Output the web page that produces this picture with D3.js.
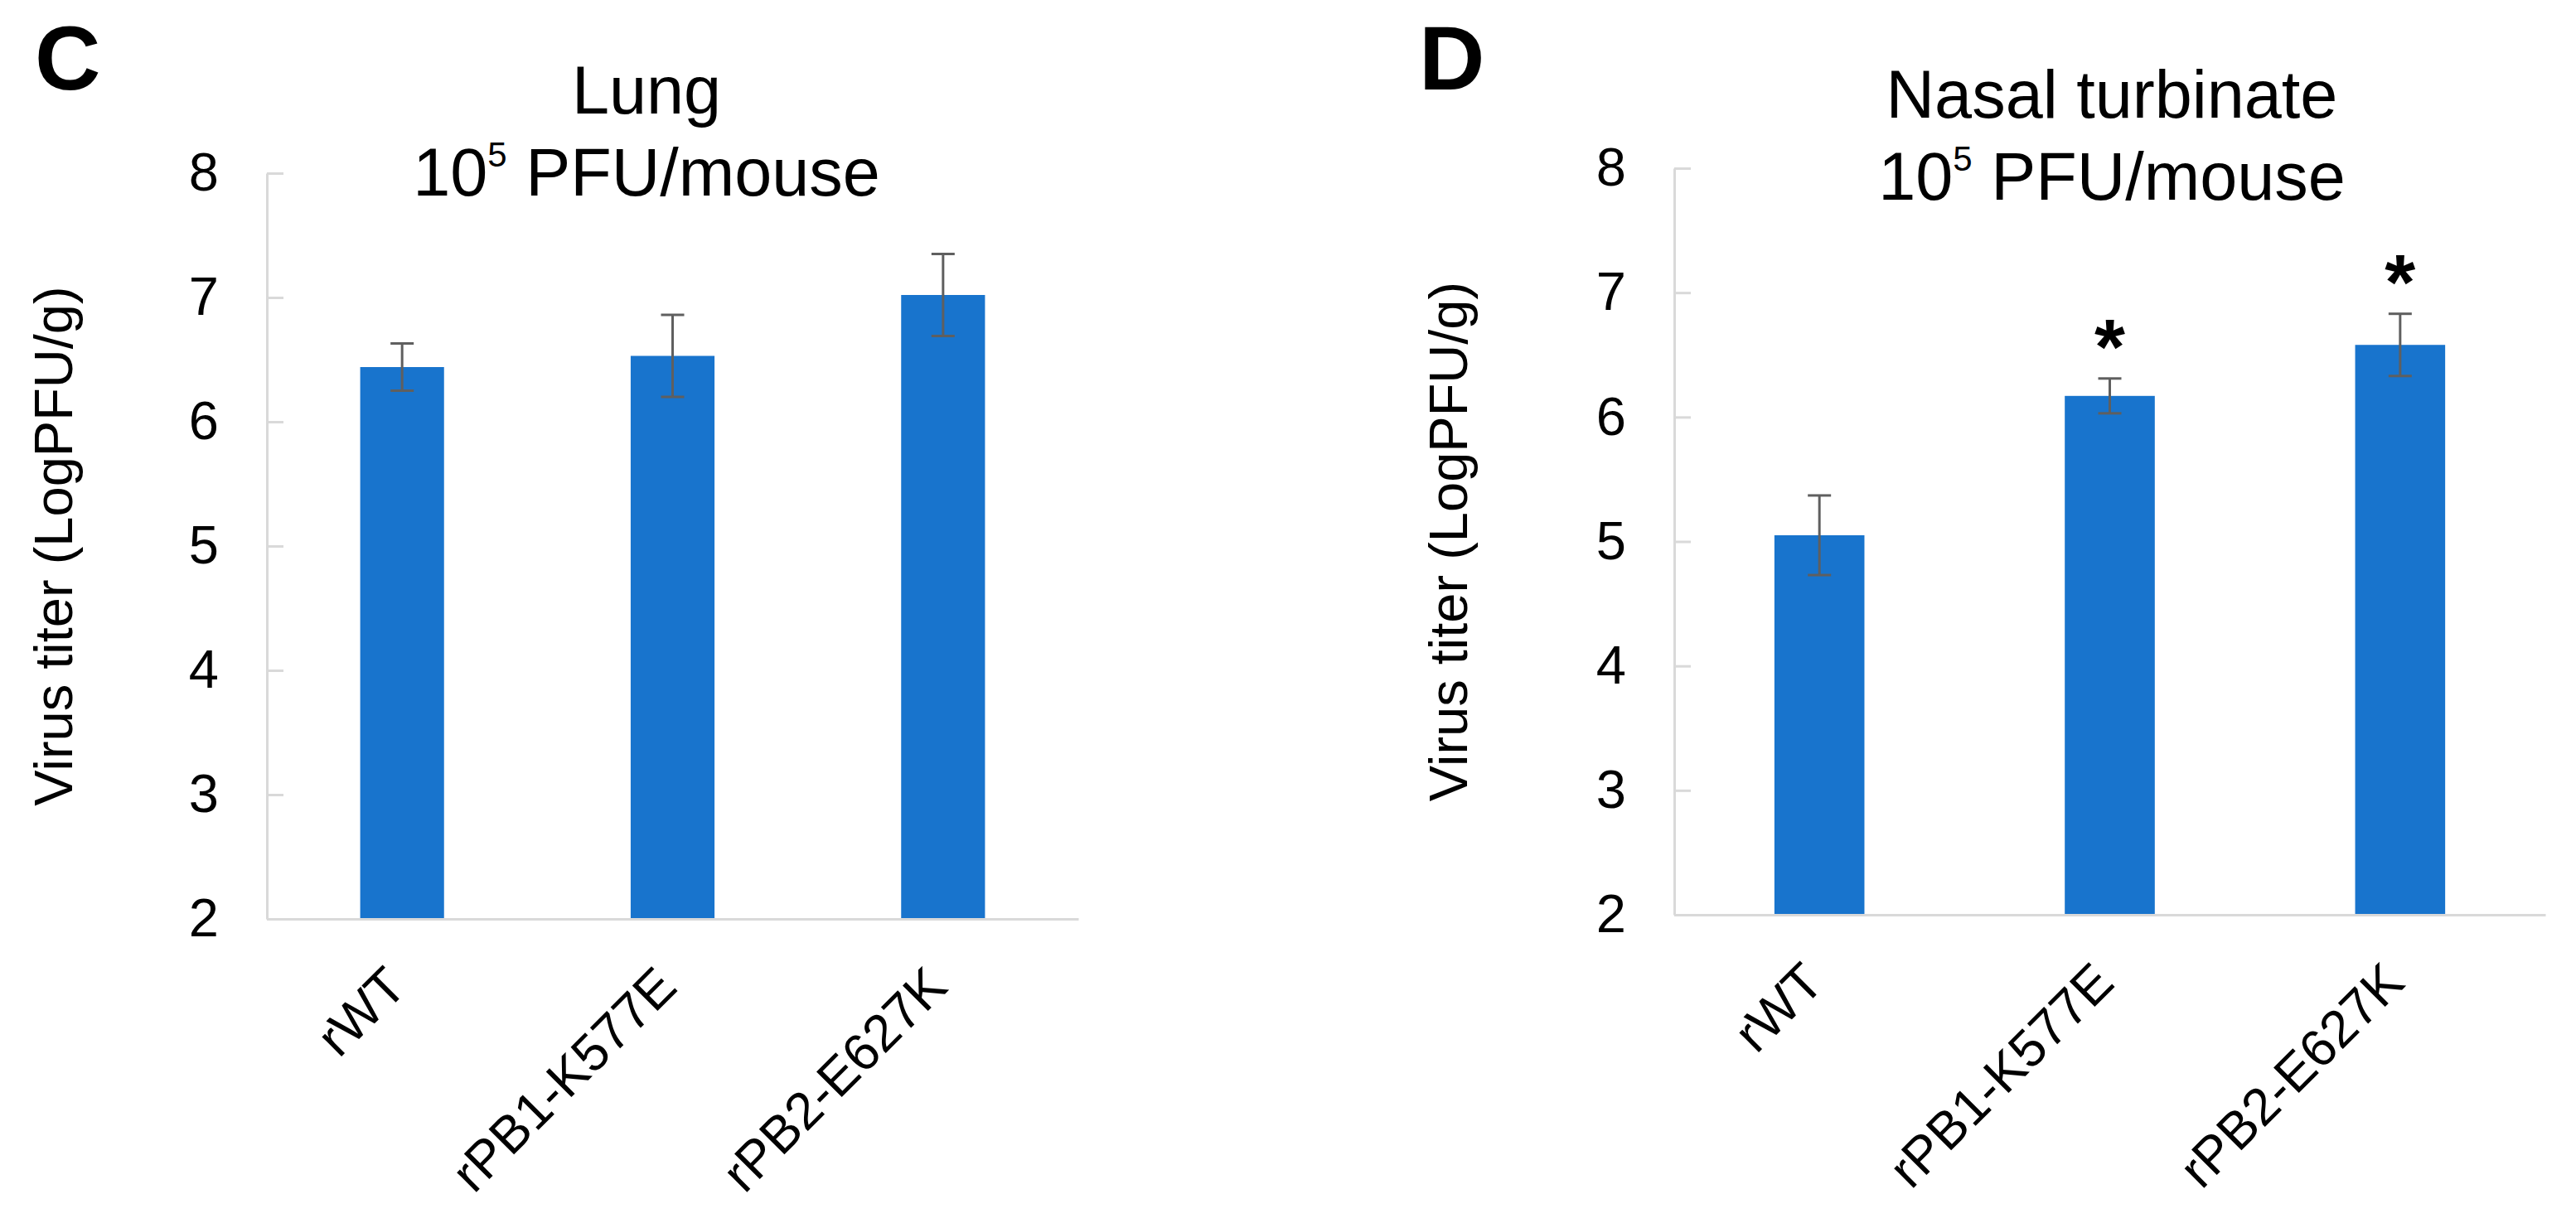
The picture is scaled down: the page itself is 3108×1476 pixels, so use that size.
<!DOCTYPE html>
<html>
<head>
<meta charset="utf-8">
<script src="https://cdn.jsdelivr.net/npm/d3@7"></script>
<style>
  html, body { margin: 0; padding: 0; background: #ffffff; }
  svg { display: block; }
  text { font-family: "Liberation Sans", Arial, Helvetica, sans-serif; fill: #000; }
</style>
</head>
<body>
<svg id="chart" width="3108" height="1476"></svg>
<script>
// ---------------- data ----------------
const categories = ["rWT", "rPB1-K577E", "rPB2-E627K"];
const yTicks = [2, 3, 4, 5, 6, 7, 8];

const lungValues  = [6.44, 6.53, 7.02];
const lungErrors  = [0.19, 0.33, 0.33];
const lungStars   = ["", "", ""];

const nasalValues = [5.05, 6.17, 6.58];
const nasalErrors = [0.32, 0.14, 0.25];
const nasalStars  = ["", "*", "*"];

const panelLetters = ["C", "D"];
const titleLine1 = ["Lung", "Nasal turbinate"];
const yTitle = "Virus titer (LogPFU/g)";

// ---------------- layout ----------------
const svg = d3.select("#chart");
svg.append("rect").attr("width", 3108).attr("height", 1476).attr("fill", "#fff");

const panels = [
  { letter: panelLetters[0], title: titleLine1[0], values: lungValues, errors: lungErrors, stars: lungStars,
    x0: 322, x1: 1301, yBottom: 1109, yTop: 209, letterX: 42, titleX: 780, titleY: 137, yTitleX: 87 },
  { letter: panelLetters[1], title: titleLine1[1], values: nasalValues, errors: nasalErrors, stars: nasalStars,
    x0: 2020, x1: 3071, yBottom: 1104, yTop: 203, letterX: 1712, titleX: 2548, titleY: 142, yTitleX: 1770 }
];

const barColor = "#1874cd";
const axisColor = "#d9d9d9";
const errColor = "#5f5f5f";

panels.forEach(p => {
  const g = svg.append("g");

  const x = d3.scaleBand()
    .domain(categories)
    .range([p.x0, p.x1])
    .paddingInner(0.69)
    .paddingOuter(0.345);

  const y = d3.scaleLinear().domain([2, 8]).range([p.yBottom, p.yTop]);

  // panel letter
  g.append("text")
    .attr("x", p.letterX).attr("y", 108)
    .attr("font-size", 110).attr("font-weight", "bold")
    .text(p.letter);

  // title
  const t = g.append("text")
    .attr("x", p.titleX).attr("y", p.titleY)
    .attr("text-anchor", "middle")
    .attr("font-size", 81);
  t.append("tspan").attr("x", p.titleX).text(p.title);
  const t2 = t.append("tspan").attr("x", p.titleX).attr("dy", 99);
  t2.append("tspan").text("10");
  t2.append("tspan").attr("font-size", 42).attr("dy", -35).text("5");
  t2.append("tspan").attr("dy", 35).text(" PFU/mouse");

  // y axis
  const yAxis = d3.axisLeft(y)
    .tickValues(yTicks)
    .tickFormat(d3.format("d"))
    .tickSizeInner(-20)
    .tickSizeOuter(0)
    .tickPadding(58);
  const ya = g.append("g").attr("transform", `translate(${p.x0},0)`).call(yAxis);
  ya.select(".domain").attr("stroke", axisColor).attr("stroke-width", 3);
  ya.selectAll(".tick line").attr("stroke", axisColor).attr("stroke-width", 3);
  ya.selectAll(".tick text").attr("font-size", 65).attr("fill", "#000")
    .attr("font-family", '"Liberation Sans", Arial, sans-serif');

  // bars
  g.selectAll(".bar").data(p.values).enter().append("rect")
    .attr("x", (d, i) => x(categories[i]))
    .attr("width", x.bandwidth())
    .attr("y", d => y(d))
    .attr("height", d => y(2) - y(d))
    .attr("fill", barColor);

  // x axis
  const xAxis = d3.axisBottom(x).tickSize(0).tickPadding(0);
  const xa = g.append("g").attr("transform", `translate(0,${p.yBottom})`).call(xAxis);
  xa.select(".domain").attr("stroke", axisColor).attr("stroke-width", 3);
  xa.selectAll(".tick text")
    .attr("font-size", 63)
    .attr("fill", "#000")
    .attr("font-family", '"Liberation Sans", Arial, sans-serif')
    .attr("text-anchor", "end")
    .attr("dy", null)
    .attr("y", null)
    .attr("transform", "translate(8,85) rotate(-45)");

  // error bars
  const eb = g.selectAll(".err").data(p.values).enter().append("g");
  eb.append("line")
    .attr("x1", (d, i) => x(categories[i]) + x.bandwidth() / 2)
    .attr("x2", (d, i) => x(categories[i]) + x.bandwidth() / 2)
    .attr("y1", (d, i) => y(d - p.errors[i]))
    .attr("y2", (d, i) => y(d + p.errors[i]))
    .attr("stroke", errColor).attr("stroke-width", 3);
  [1, -1].forEach(s => {
    eb.append("line")
      .attr("x1", (d, i) => x(categories[i]) + x.bandwidth() / 2 - 14)
      .attr("x2", (d, i) => x(categories[i]) + x.bandwidth() / 2 + 14)
      .attr("y1", (d, i) => y(d + s * p.errors[i]))
      .attr("y2", (d, i) => y(d + s * p.errors[i]))
      .attr("stroke", errColor).attr("stroke-width", 3);
  });

  // significance stars
  g.selectAll(".star").data(p.values).enter().append("text")
    .attr("x", (d, i) => x(categories[i]) + x.bandwidth() / 2)
    .attr("y", (d, i) => y(d + p.errors[i]) - 59 + 53)
    .attr("text-anchor", "middle")
    .attr("font-size", 95).attr("font-weight", "bold")
    .text((d, i) => p.stars[i]);

  // y title
  g.append("text")
    .attr("transform", `translate(${p.yTitleX},${(p.yTop + p.yBottom) / 2}) rotate(-90)`)
    .attr("text-anchor", "middle")
    .attr("font-size", 65)
    .text(yTitle);
});
</script>
</body>
</html>
